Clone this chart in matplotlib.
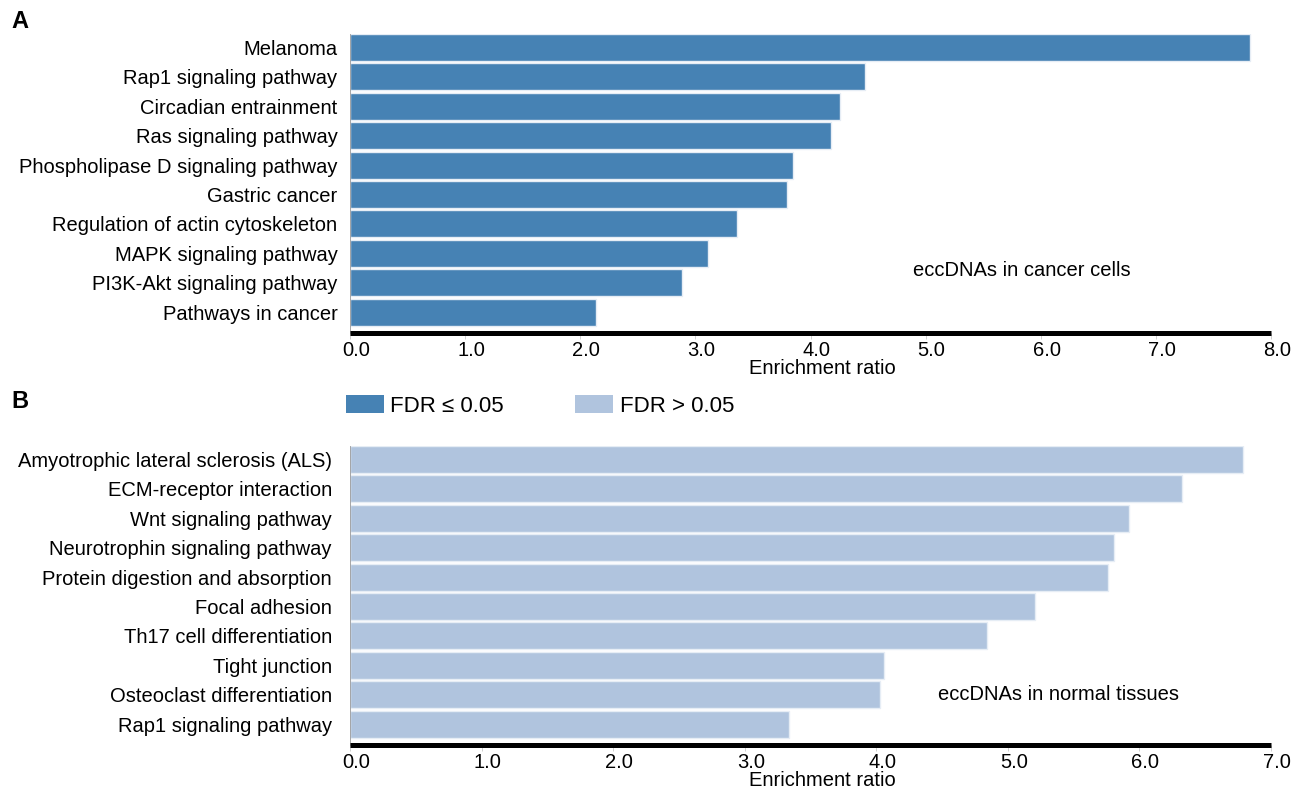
import matplotlib
matplotlib.use("Agg")
import matplotlib.pyplot as plt
import matplotlib.transforms as mtransforms
from matplotlib.patches import Patch

plt.rcParams['font.family'] = ['Liberation Sans', 'DejaVu Sans']

# panel A: eccDNAs in cancer cells (FDR <= 0.05)
cancer_terms = ["Melanoma", "Rap1 signaling pathway", "Circadian entrainment",
                "Ras signaling pathway", "Phospholipase D signaling pathway",
                "Gastric cancer", "Regulation of actin cytoskeleton",
                "MAPK signaling pathway", "PI3K-Akt signaling pathway",
                "Pathways in cancer"]
cancer_ratio = [7.82, 4.47, 4.26, 4.18, 3.85, 3.80, 3.36, 3.11, 2.88, 2.14]

# panel B: eccDNAs in normal tissues (FDR > 0.05)
normal_terms = ["Amyotrophic lateral sclerosis (ALS)", "ECM-receptor interaction",
                "Wnt signaling pathway", "Neurotrophin signaling pathway",
                "Protein digestion and absorption", "Focal adhesion",
                "Th17 cell differentiation", "Tight junction",
                "Osteoclast differentiation", "Rap1 signaling pathway"]
normal_ratio = [6.79, 6.32, 5.92, 5.81, 5.76, 5.21, 4.84, 4.06, 4.03, 3.34]

cancer_ticks = [0, 1, 2, 3, 4, 5, 6, 7, 8]
normal_ticks = [0, 1, 2, 3, 4, 5, 6, 7]

dark = '#4682B4'
light = '#B0C4DE'
W, H = 1309, 801
FS = 14.5

fig = plt.figure(figsize=(W / 100, H / 100), dpi=100)


def panel(rect, terms, vals, color, ticks, note, note_xy, ypad):
    ax = fig.add_axes(rect)
    pos = list(range(len(terms)))[::-1]
    ax.barh(pos, vals, height=0.92, color=color, edgecolor='#e6edf5', linewidth=1)
    ax.set_xlim(0, ticks[-1])
    ax.set_ylim(-0.71, 9.46)
    ax.set_yticks(pos)
    ax.set_yticklabels(terms, fontsize=FS)
    ax.tick_params(axis='y', length=0, pad=ypad)
    ax.set_xticks(ticks)
    ax.set_xticklabels(["%.1f" % t for t in ticks], fontsize=FS)
    ax.tick_params(axis='x', length=4, width=0.6, color='#c8c8c8', pad=1.5)
    off = mtransforms.ScaledTranslation(6 / 100, 0, fig.dpi_scale_trans)
    for lab in ax.get_xticklabels():
        lab.set_transform(lab.get_transform() + off)
    for s in ['top', 'right']:
        ax.spines[s].set_visible(False)
    ax.spines['bottom'].set_linewidth(3.6)
    ax.spines['bottom'].set_color('black')
    ax.spines['bottom'].set_capstyle('butt')
    ax.spines['left'].set_linewidth(0.6)
    ax.spines['left'].set_color('#999999')
    ax.text(0.513, -0.118, "Enrichment ratio", transform=ax.transAxes,
            ha='center', va='center', fontsize=FS)
    ax.text(note_xy[0], note_xy[1], note, transform=ax.transAxes,
            ha='center', va='center', fontsize=FS)
    return ax


left = 350 / W
width = 921 / W
axA = panel([left, (H - 333) / H, width, 299 / H], cancer_terms, cancer_ratio,
            dark, cancer_ticks, "eccDNAs in cancer cells",
            ((1022 - 350) / 921, (333 - 271) / 299), 9)
axB = panel([left, (H - 745) / H, width, 299 / H], normal_terms, normal_ratio,
            light, normal_ticks, "eccDNAs in normal tissues",
            ((1058 - 350) / 921, (745 - 695) / 299), 13)

fig.text(11 / W, 1 - 22 / H, "A", fontsize=17, fontweight='bold', va='center')
fig.text(11 / W, 1 - 402 / H, "B", fontsize=17, fontweight='bold', va='center')

handles = [Patch(facecolor=dark, edgecolor='none', label="FDR \u2264 0.05"),
           Patch(facecolor=light, edgecolor='none', label="FDR > 0.05")]
fig.legend(handles=handles, loc='upper left', bbox_to_anchor=(346 / W, 1 - 395 / H),
           ncol=2, frameon=False, fontsize=16, borderpad=0, borderaxespad=0,
           handlelength=1.7, handleheight=0.9, handletextpad=0.3, columnspacing=3.2)

fig.savefig("out.png", dpi=100)
